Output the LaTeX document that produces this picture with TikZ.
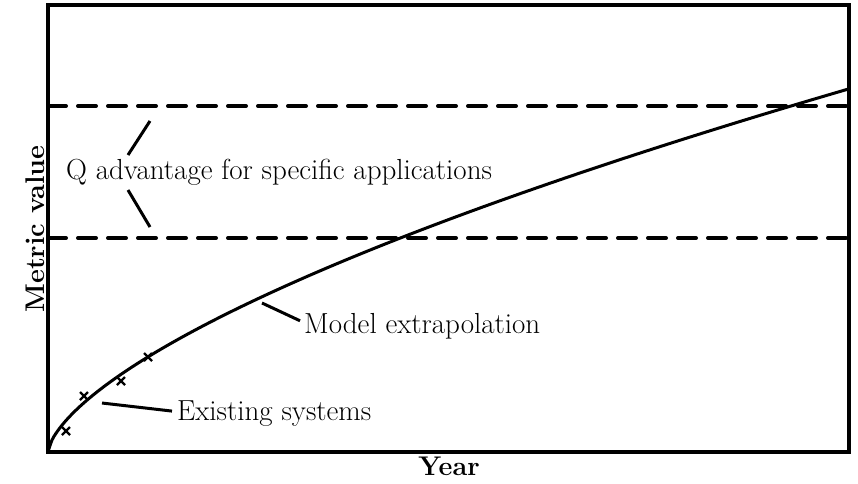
\documentclass[tikz,border=0pt]{standalone}
\usetikzlibrary{positioning}
\definecolor{PlotInk}{RGB}{0,0,0}
\tikzset{
  plot frame/.style={draw=PlotInk, line width=4.5pt},
  plot level/.style={draw=PlotInk, line width=4pt, dash pattern=on 18pt off 12pt, line cap=round},
  plot curve/.style={draw=PlotInk, line width=3pt},
  plot mark/.style={draw=PlotInk, line width=2.2pt},
  plot lead/.style={draw=PlotInk, line width=3pt},
  plot label/.style={font=\fontsize{29}{34}\selectfont, text=PlotInk, inner sep=0pt},
  plot axis/.style={font=\fontsize{27}{32}\selectfont\bfseries, text=PlotInk, inner sep=0pt}
}
\begin{document}
\begin{tikzpicture}[x=1pt, y=-1pt]
\useasboundingbox (0,0) rectangle (858,483);
% frame, levels and model curve
\draw[plot frame] (48,5) rectangle (849,452);
\draw[plot level] (48,106) -- (849,106);
\draw[plot level] (48,238) -- (849,238);
\draw[plot curve, domain=0.01:801, samples=200, smooth] plot ({48+\x},{452-4.9*\x^0.644});
% existing systems
\foreach \mx/\my in {66/431,84/396,121/381,148/357}
  \draw[plot mark] (\mx-4,\my-4) -- (\mx+4,\my+4) (\mx-4,\my+4) -- (\mx+4,\my-4);
% labels
\node[plot label, anchor=base west] (qadv) at (66,179) {Q advantage for specific applications};
\node[plot label, anchor=base west] (model) at (304,333) {Model extrapolation};
\node[plot label, anchor=base west] (exist) at (177,420) {Existing systems};
\node[plot axis, rotate=90] (ylab) at (35,229) {Metric value};
\node[plot axis, anchor=base] (xlab) at (449,475) {Year};
% leaders
\coordinate (qupA) at (150,121);
\coordinate (qupB) at (128,155);
\coordinate (qlowA) at (128,190);
\coordinate (qlowB) at (150,227);
\coordinate (modelpt) at (262,303);
\coordinate (existpt) at (102,403);
\draw[plot lead] (qupA) -- (qupB);
\draw[plot lead] (qlowA) -- (qlowB);
\draw[plot lead] (modelpt) -- ([xshift=-4pt,yshift=5pt]model.west);
\draw[plot lead] (existpt) -- ([xshift=-5pt,yshift=2pt]exist.west);
\end{tikzpicture}
\end{document}
